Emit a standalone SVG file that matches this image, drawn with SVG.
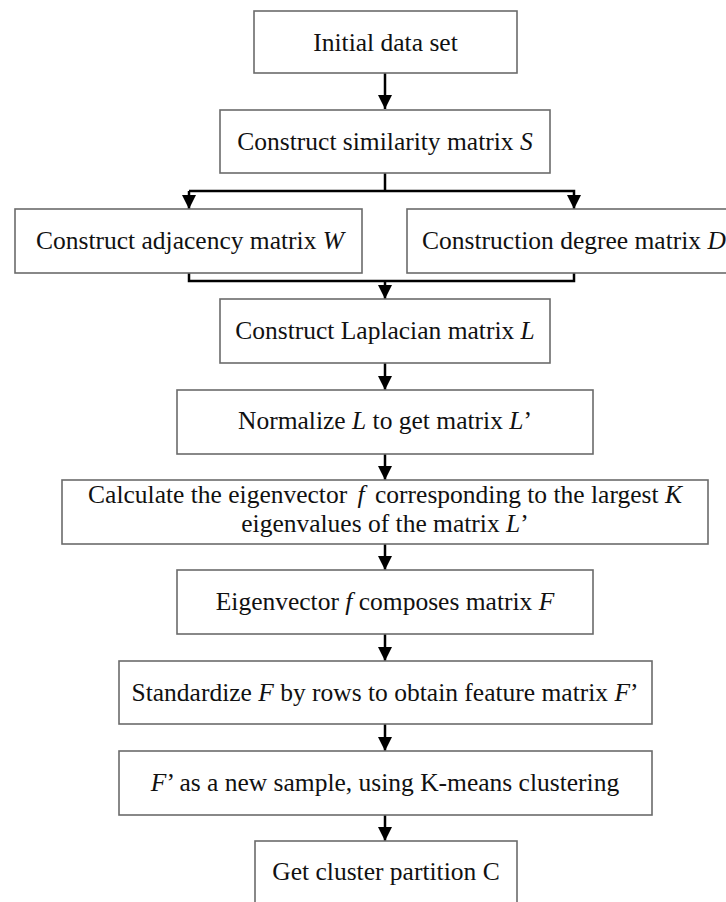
<svg xmlns="http://www.w3.org/2000/svg" width="726" height="902" viewBox="0 0 726 902">
<style>
.box{fill:#fff;stroke:#6b6b6b;stroke-width:1.6}
.t{font-family:"Liberation Serif","Times New Roman",serif;font-size:25.5px;fill:#111;text-anchor:middle}
.i{font-style:italic}
.c{fill:none;stroke:#000;stroke-width:2.5}
</style>
<defs>
<marker id="ah" markerUnits="userSpaceOnUse" markerWidth="14" markerHeight="14" refX="14" refY="7" orient="auto">
<path d="M0,0 L14,7 L0,14 z" fill="#000"/>
</marker>
</defs>
<rect width="726" height="902" fill="#fff"/>
<g id="connectors">
<line class="c" x1="385" y1="73" x2="385" y2="109" marker-end="url(#ah)"/>
<polyline class="c" points="385,173 385,191"/>
<polyline class="c" points="189,191 574,191 574,209" marker-end="url(#ah)"/>
<line class="c" x1="189" y1="191" x2="189" y2="209" marker-end="url(#ah)"/>
<polyline class="c" points="189,273 189,281 574,281 574,273"/>
<line class="c" x1="385" y1="281" x2="385" y2="299" marker-end="url(#ah)"/>
<line class="c" x1="385" y1="363" x2="385" y2="390" marker-end="url(#ah)"/>
<line class="c" x1="385" y1="454" x2="385" y2="480" marker-end="url(#ah)"/>
<line class="c" x1="385" y1="544" x2="385" y2="570" marker-end="url(#ah)"/>
<line class="c" x1="385" y1="634" x2="385" y2="661" marker-end="url(#ah)"/>
<line class="c" x1="385" y1="724" x2="385" y2="751" marker-end="url(#ah)"/>
<line class="c" x1="385" y1="815" x2="385" y2="841" marker-end="url(#ah)"/>
</g>
<g id="n1"><rect class="box" x="254" y="11" width="263" height="62"/><text class="t" x="385.5" y="51">Initial data set</text></g>
<g id="n2"><rect class="box" x="220" y="110" width="330" height="63"/><text class="t" x="385" y="150">Construct similarity matrix <tspan class="i">S</tspan></text></g>
<g id="n3"><rect class="box" x="15" y="209" width="347" height="64"/><text class="t" x="190" y="249">Construct adjacency matrix <tspan class="i">W</tspan></text></g>
<g id="n4"><rect class="box" x="407" y="209" width="334" height="64"/><text class="t" x="574" y="249">Construction degree matrix <tspan class="i">D</tspan></text></g>
<g id="n5"><rect class="box" x="220" y="299" width="330" height="64"/><text class="t" x="385" y="339">Construct Laplacian matrix <tspan class="i">L</tspan></text></g>
<g id="n6"><rect class="box" x="177" y="390" width="416" height="64"/><text class="t" x="385" y="429">Normalize <tspan class="i">L</tspan> to get matrix <tspan class="i">L</tspan>’</text></g>
<g id="n7"><rect class="box" x="62" y="480" width="646" height="64"/><text class="t" x="385" y="503">Calculate the eigenvector <tspan class="i" dx="4">f</tspan><tspan dx="4"> corresponding to the largest </tspan><tspan class="i">K</tspan></text><text class="t" x="385" y="532">eigenvalues of the matrix <tspan class="i">L</tspan>’</text></g>
<g id="n8"><rect class="box" x="177" y="570" width="416" height="64"/><text class="t" x="385" y="610">Eigenvector <tspan class="i">f</tspan> composes matrix <tspan class="i">F</tspan></text></g>
<g id="n9"><rect class="box" x="119" y="661" width="533" height="63"/><text class="t" x="385" y="701">Standardize <tspan class="i">F</tspan> by rows to obtain feature matrix <tspan class="i">F</tspan>’</text></g>
<g id="n10"><rect class="box" x="119" y="751" width="533" height="64"/><text class="t" x="385" y="791"><tspan class="i">F</tspan>’ as a new sample, using K-means clustering</text></g>
<g id="n11"><rect class="box" x="255" y="841" width="262" height="64"/><text class="t" x="386" y="880">Get cluster partition C</text></g>
</svg>
